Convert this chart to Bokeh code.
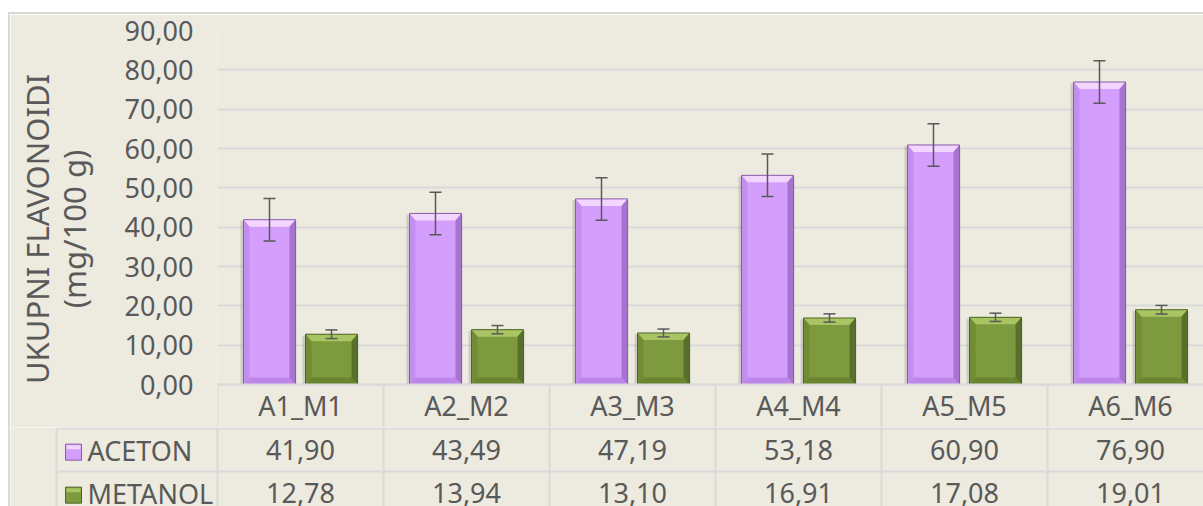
from bokeh.plotting import figure
from bokeh.models import (ColumnDataSource, Range1d, FixedTicker, Whisker, TeeHead,
                          Spacer, CustomJSTickFormatter)
from bokeh.layouts import column, row
from bokeh.core.properties import value
from bokeh.embed import file_html
from bokeh.resources import INLINE

# ---------------- data ----------------
categories = ["A1_M1", "A2_M2", "A3_M3", "A4_M4", "A5_M5", "A6_M6"]
series_names = ["ACETON", "METANOL"]
aceton = [41.90, 43.49, 47.19, 53.18, 60.90, 76.90]
metanol = [12.78, 13.94, 13.10, 16.91, 17.08, 19.01]
aceton_err = [5.4, 5.4, 5.4, 5.4, 5.4, 5.4]
metanol_err = [1.1, 1.05, 1.0, 1.05, 1.05, 1.1]
y_ticks = [0, 10, 20, 30, 40, 50, 60, 70, 80, 90]
y_title = "UKUPNI FLAVONOIDI\n(mg/100 g)"

# ---------------- style ----------------
FONT = "Noto Sans"
FS = "27px"
TITLE_FS = "31px"
TXT = "#595959"
BG = "#EDEAE0"
GRID = "#D9D9D9"
W = 1193
LEFT = 207
PX_CAT = 166.0
ROW = 43.0
TOP_MB = 16
PLOT_PX = 354.0
Y_MAX = 90
PX_Y = PLOT_PX / Y_MAX
TOP_H = TOP_MB + int(PLOT_PX + ROW)
Y_MIN = -ROW / PX_Y
X_END = (W - LEFT) / PX_CAT
BAR_W = 52 / PX_CAT
OFF = 31 / PX_CAT

COLORS = {
    "ACETON": dict(main="#D49EFC", top="#F3D6FF", bottom="#BF86EA", left="#C48EEE", right="#A873D0", line="#8A5AAE"),
    "METANOL": dict(main="#7E9A3E", top="#A9C463", bottom="#6A8530", left="#718C35", right="#58702A", line="#4E6424"),
}

fmt = lambda v: f"{v:.2f}".replace(".", ",")

top = figure(width=W, height=TOP_H, output_backend="svg", toolbar_location=None,
             x_range=Range1d(0, X_END), y_range=Range1d(Y_MIN, Y_MAX),
             x_axis_location=None, frame_align=False,
             min_border_left=LEFT, min_border_right=0, min_border_top=TOP_MB, min_border_bottom=0,
             background_fill_color=BG, border_fill_color=BG, outline_line_color=None)
top.xgrid.visible = False
top.ygrid.ticker = FixedTicker(ticks=y_ticks)
top.ygrid.grid_line_color = GRID
top.ygrid.grid_line_width = 2

ya = top.yaxis[0]
ya.ticker = FixedTicker(ticks=y_ticks)
ya.formatter = CustomJSTickFormatter(code="return tick.toFixed(2).replace('.', ',');")
ya.axis_line_color = None
ya.major_tick_line_color = None
ya.minor_tick_line_color = None
ya.major_tick_out = 0
ya.major_tick_in = 0
ya.major_label_standoff = 24
ya.major_label_text_font = FONT
ya.major_label_text_font_size = FS
ya.major_label_text_color = TXT
ya.axis_label = y_title
ya.axis_label_text_font = FONT
ya.axis_label_text_font_size = TITLE_FS
ya.axis_label_text_font_style = "normal"
ya.axis_label_text_color = TXT
ya.axis_label_text_line_height = 0.9
ya.axis_label_standoff = 26

bx = 6 / PX_CAT
by = 7 / PX_Y
n = len(categories)


def draw_bars(vals, errs, offset, name):
    c = COLORS[name]
    xs = [i + 0.5 + offset for i in range(len(vals))]
    L = [x - BAR_W / 2 for x in xs]
    R = [x + BAR_W / 2 for x in xs]
    zero = [0] * len(vals)
    # shadow
    top.quad(left=[l - 3 / PX_CAT for l in L], right=[r + 1 / PX_CAT for r in R],
             top=[v - 0.3 for v in vals], bottom=zero,
             fill_color="#000000", fill_alpha=0.13, line_color=None)
    top.quad(left=L, right=R, top=vals, bottom=zero, fill_color=c["main"], line_color=None)
    tx = [[l, r, r - bx, l + bx] for l, r in zip(L, R)]
    ty = [[v, v, v - by, v - by] for v in vals]
    top.patches(tx, ty, fill_color=c["top"], line_color=None)
    bty = [[0, 0, by, by] for v in vals]
    top.patches(tx, bty, fill_color=c["bottom"], line_color=None)
    lx = [[l, l, l + bx, l + bx] for l in L]
    ly = [[0, v, v - by, by] for v in vals]
    top.patches(lx, ly, fill_color=c["left"], line_color=None)
    rx = [[r, r, r - bx, r - bx] for r in R]
    top.patches(rx, ly, fill_color=c["right"], line_color=None)
    top.quad(left=L, right=R, top=vals, bottom=zero,
             fill_color=None, line_color=c["line"], line_width=1)
    src = ColumnDataSource(dict(x=xs, up=[v + e for v, e in zip(vals, errs)],
                                lo=[v - e for v, e in zip(vals, errs)]))
    w = Whisker(source=src, base="x", upper="up", lower="lo", level="overlay",
                line_color=TXT, line_width=1.5,
                upper_head=TeeHead(size=12, line_color=TXT, line_width=1.5),
                lower_head=TeeHead(size=12, line_color=TXT, line_width=1.5))
    top.add_layout(w)


draw_bars(aceton, aceton_err, -OFF, "ACETON")
draw_bars(metanol, metanol_err, OFF, "METANOL")

tkw = dict(text_font=value(FONT), text_font_size=FS, text_color=TXT, text_baseline="middle")
cx = [i + 0.5 for i in range(n)]

# header row of the data table (category labels) inside the top figure
top.segment(x0=[0] + list(range(n + 1)), y0=[0] * (n + 2),
            x1=[X_END] + list(range(n + 1)), y1=[0] + [Y_MIN] * (n + 1),
            line_color=GRID, line_width=2)
top.text(x=cx, y=[Y_MIN / 2 + 0.15] * n, text=categories, text_align="center", **tkw)

# ---------------- data table rows ----------------
BOT_H = 79
Y_END = -1 + 1 / ROW
Y_START = Y_END - BOT_H / ROW
X_START = -LEFT / PX_CAT
LEG_L = (56 - 217) / PX_CAT

bot = figure(width=W, height=BOT_H, output_backend="svg", toolbar_location=None,
             x_range=Range1d(X_START, X_END), y_range=Range1d(Y_START, Y_END),
             x_axis_location=None, y_axis_location=None, frame_align=False,
             min_border_left=0, min_border_right=0, min_border_top=0, min_border_bottom=0,
             background_fill_color=BG, border_fill_color=BG, outline_line_color=None)
bot.grid.visible = False

sx0 = [LEG_L, LEG_L] + list(range(n + 1)) + [LEG_L]
sx1 = [X_END, X_END] + list(range(n + 1)) + [LEG_L]
sy0 = [-1, -2] + [Y_END] * (n + 1) + [-1]
sy1 = [-1, -2] + [Y_START] * (n + 1) + [Y_START]
bot.segment(x0=sx0, y0=sy0, x1=sx1, y1=sy1, line_color=GRID, line_width=2)

bot.text(x=cx, y=[-1.5] * n, text=[fmt(v) for v in aceton], text_align="center", **tkw)
bot.text(x=cx, y=[-2.5] * n, text=[fmt(v) for v in metanol], text_align="center", **tkw)
bot.text(x=[(87 - 217) / PX_CAT] * 2, y=[-1.5, -2.5], text=series_names, text_align="left", **tkw)
key_x = (73 - 217) / PX_CAT
bot.rect(x=[key_x] * 2, y=[-1.55, -2.55], width=16, height=16,
         width_units="screen", height_units="screen",
         fill_color=[COLORS[s]["main"] for s in series_names],
         line_color=[COLORS[s]["line"] for s in series_names], line_width=1)
bot.rect(x=[key_x] * 2, y=[-1.55 + 5 / ROW, -2.55 + 5 / ROW], width=14, height=4,
         width_units="screen", height_units="screen",
         fill_color=[COLORS[s]["top"] for s in series_names], line_color=None)

BODY_H = TOP_H + BOT_H
layout = column(
    Spacer(width=8 + 2 + W, height=12),
    row(Spacer(width=8, height=2), Spacer(width=2 + W, height=2, styles={"background-color": GRID})),
    row(Spacer(width=8, height=BODY_H),
        Spacer(width=2, height=BODY_H, styles={"background-color": GRID}),
        column(top, bot)),
)

open("out.html", "w").write(file_html(layout, INLINE))
